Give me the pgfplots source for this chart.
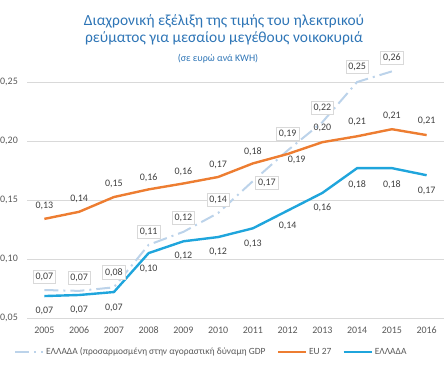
\documentclass[border=0pt]{standalone}
\usepackage{pgfplots}
\pgfplotsset{compat=1.18}
\usepackage{fontspec}
\setmainfont{Carlito}
\definecolor{orangeEU}{HTML}{ED7D31}
\definecolor{blueGR}{HTML}{1FA5DC}
\definecolor{dashGR}{HTML}{BCD3EA}
\definecolor{titleblue}{HTML}{2E75B6}
\definecolor{labgray}{HTML}{404040}
\definecolor{tickgray}{HTML}{595959}
\definecolor{gridgray}{HTML}{D9D9D9}
\tikzset{
  lab/.style={font=\fontsize{10}{12}\selectfont, text=labgray, inner sep=1.5bp},
  blab/.style={lab, draw=gridgray, fill=white, inner sep=2.5bp, line width=0.6bp},
}
\begin{document}
\begin{tikzpicture}[x=1bp,y=1bp]
\useasboundingbox (0,0) rectangle (446,365);
\node[anchor=base, text=titleblue, font=\fontsize{15.5}{17}\selectfont, inner sep=0] at (224,340) {Διαχρονική εξέλιξη της τιμής του ηλεκτρικού};
\node[anchor=base, text=titleblue, font=\fontsize{15.5}{17}\selectfont, inner sep=0] at (224,323) {ρεύματος για μεσαίου μεγέθους νοικοκυριά};
\node[anchor=base, text=titleblue, font=\fontsize{10}{12}\selectfont, inner sep=0] at (218,304) {(σε ευρώ ανά KWH)};
\begin{axis}[
  at={(27bp,47bp)}, anchor=south west, scale only axis,
  width=417bp, height=236bp,
  xmin=2004.5, xmax=2016.5, ymin=0.05, ymax=0.25,
  xtick={2005,2006,2007,2008,2009,2010,2011,2012,2013,2014,2015,2016},
  xticklabels={2005,2006,2007,2008,2009,2010,2011,2012,2013,2014,2015,2016},
  ytick={0.05,0.1,0.15,0.2,0.25},
  yticklabels={{0,05},{0,10},{0,15},{0,20},{0,25}},
  major tick length=0pt,
  axis line style={draw=none},
  ymajorgrids, grid style={gridgray, line width=0.8bp},
  clip=false,
  xticklabel style={font=\fontsize{10}{12}\selectfont, text=tickgray, inner sep=0pt, anchor=north, yshift=-8.5bp},
  yticklabel style={font=\fontsize{10}{12}\selectfont, text=tickgray, inner sep=0pt, anchor=east, xshift=-9bp},
  legend columns=3,
  legend style={at={(axis description cs:0.442,-0.144)}, anchor=center, draw=none, fill=none,
    font=\fontsize{9.5}{11}\selectfont, text=tickgray,
    /tikz/every even column/.append style={column sep=9bp}},
  legend image code/.code={\draw[#1] (0bp,0bp) -- (28bp,0bp);},
]
\addplot[dashGR, line width=2bp, dash pattern=on 14bp off 5bp on 2bp off 5bp] coordinates {
 (2005,0.0737) (2006,0.073) (2007,0.076) (2008,0.112) (2009,0.123) (2010,0.139)
 (2011,0.166) (2012,0.192) (2013,0.216) (2014,0.250) (2015,0.259)};
\addlegendentry{ΕΛΛΑΔΑ (προσαρμοσμένη στην αγοραστική δύναμη GDP}
\addplot[orangeEU, line width=2.4bp] coordinates {
 (2005,0.134) (2006,0.140) (2007,0.1525) (2008,0.159) (2009,0.164) (2010,0.1695)
 (2011,0.181) (2012,0.189) (2013,0.199) (2014,0.204) (2015,0.210) (2016,0.205)};
\addlegendentry{EU 27}
\addplot[blueGR, line width=2.4bp] coordinates {
 (2005,0.0686) (2006,0.0695) (2007,0.072) (2008,0.105) (2009,0.115) (2010,0.1186)
 (2011,0.126) (2012,0.141) (2013,0.156) (2014,0.177) (2015,0.177) (2016,0.171)};
\addlegendentry{ΕΛΛΑΔΑ}
% EU27 labels
\node[lab, yshift=13bp] at (axis cs:2005,0.134) {0,13};
\node[lab, yshift=13bp] at (axis cs:2006,0.140) {0,14};
\node[lab, yshift=13bp] at (axis cs:2007,0.1525) {0,15};
\node[lab, yshift=12bp] at (axis cs:2008,0.159) {0,16};
\node[lab, yshift=12bp] at (axis cs:2009,0.164) {0,16};
\node[lab, yshift=12bp] at (axis cs:2010,0.1695) {0,17};
\node[lab, yshift=12bp] at (axis cs:2011,0.181) {0,18};
\node[lab, xshift=9bp, yshift=-6bp] at (axis cs:2012,0.189) {0,19};
\node[lab, yshift=14bp] at (axis cs:2013,0.199) {0,20};
\node[lab, yshift=14bp] at (axis cs:2014,0.204) {0,21};
\node[lab, yshift=13bp] at (axis cs:2015,0.210) {0,21};
\node[lab, yshift=14bp] at (axis cs:2016,0.205) {0,21};
% Greece labels
\node[lab, yshift=-15bp] at (axis cs:2005,0.0686) {0,07};
\node[lab, yshift=-15bp] at (axis cs:2006,0.0695) {0,07};
\node[lab, yshift=-16bp] at (axis cs:2007,0.072) {0,07};
\node[lab, yshift=-16bp] at (axis cs:2008,0.105) {0,10};
\node[lab, yshift=-15bp] at (axis cs:2009,0.115) {0,12};
\node[lab, yshift=-15bp] at (axis cs:2010,0.1186) {0,12};
\node[lab, yshift=-16bp] at (axis cs:2011,0.126) {0,13};
\node[lab, yshift=-15bp] at (axis cs:2012,0.141) {0,14};
\node[lab, yshift=-15bp] at (axis cs:2013,0.156) {0,16};
\node[lab, yshift=-17bp] at (axis cs:2014,0.177) {0,18};
\node[lab, yshift=-17bp] at (axis cs:2015,0.177) {0,18};
\node[lab, yshift=-16bp] at (axis cs:2016,0.171) {0,17};
% Adjusted labels
\node[blab, yshift=13bp] at (axis cs:2005,0.0737) {0,07};
\node[blab, yshift=13bp] at (axis cs:2006,0.073) {0,07};
\node[blab, yshift=15bp] at (axis cs:2007,0.076) {0,08};
\node[blab, yshift=13bp] at (axis cs:2008,0.112) {0,11};
\node[blab, yshift=14bp] at (axis cs:2009,0.123) {0,12};
\node[blab, yshift=13bp] at (axis cs:2010,0.139) {0,14};
\node[blab, xshift=14bp, yshift=-2bp] at (axis cs:2011,0.166) {0,17};
\node[blab, yshift=17bp] at (axis cs:2012,0.192) {0,19};
\node[blab, yshift=14bp] at (axis cs:2013,0.216) {0,22};
\node[blab, yshift=15bp] at (axis cs:2014,0.250) {0,25};
\node[blab, yshift=14bp] at (axis cs:2015,0.259) {0,26};
\end{axis}
\end{tikzpicture}
\end{document}
